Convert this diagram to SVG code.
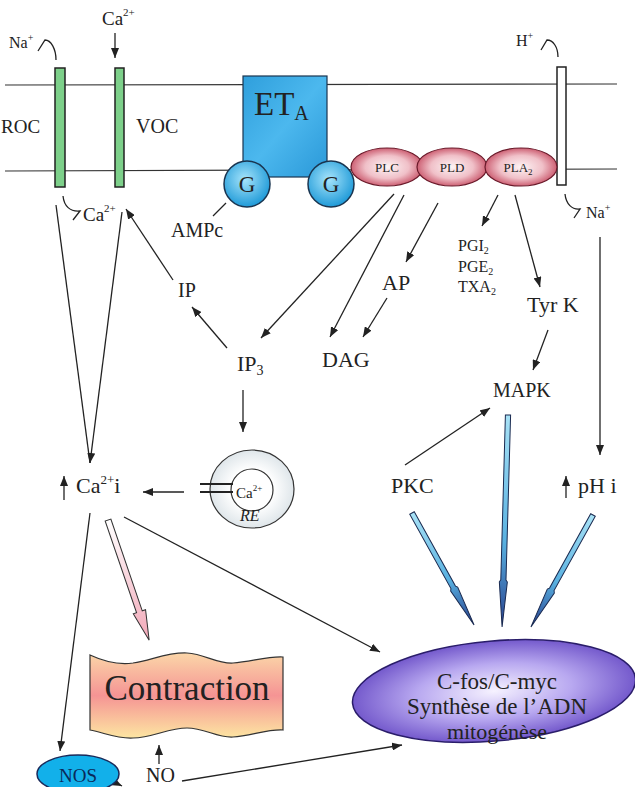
<svg xmlns="http://www.w3.org/2000/svg" width="635" height="787" viewBox="0 0 635 787" font-family="'Liberation Serif', 'Times New Roman', serif">
<style>
text{font-family:'Liberation Serif','Times New Roman',serif;fill:#222}
.ln{stroke:#222;stroke-width:1.3;fill:none}
.ar{stroke:#222;stroke-width:1.3;fill:none;marker-end:url(#ah)}
.mem{stroke:#333;stroke-width:1.2}
.chan{fill:#7dd08a;stroke:#222;stroke-width:1.5}
.g{fill:url(#gG);stroke:#1a3550;stroke-width:1.5}
.pl{fill:url(#gPL);stroke:#6a1a2a;stroke-width:1.2}
.blue{fill:url(#gBlue);stroke:#1a2a50;stroke-width:1}
</style>
<defs>
<marker id="ah" markerWidth="10" markerHeight="8" refX="10" refY="4" orient="auto" markerUnits="userSpaceOnUse"><path d="M0,0 L10,4 L0,8 Z" fill="#222"/></marker>
<linearGradient id="gET" x1="0" y1="0" x2="1" y2="1"><stop offset="0" stop-color="#2f9fdc"/><stop offset="0.5" stop-color="#4cb8ee"/><stop offset="1" stop-color="#2a98d8"/></linearGradient>
<radialGradient id="gG" cx="0.45" cy="0.4" r="0.6"><stop offset="0" stop-color="#a6e4fb"/><stop offset="1" stop-color="#1f9ad8"/></radialGradient>
<radialGradient id="gPL" cx="0.5" cy="0.5" r="0.55"><stop offset="0" stop-color="#fdf4f5"/><stop offset="0.55" stop-color="#f0c0c8"/><stop offset="1" stop-color="#c4485e"/></radialGradient>
<linearGradient id="gBlue" x1="0" y1="0" x2="1" y2="0"><stop offset="0" stop-color="#a8e2f6"/><stop offset="0.6" stop-color="#58b0e0"/><stop offset="1" stop-color="#27408e"/></linearGradient>
<linearGradient id="gPink" x1="0" y1="0" x2="1" y2="0"><stop offset="0" stop-color="#ffffff"/><stop offset="1" stop-color="#f2a8b8"/></linearGradient>
<linearGradient id="gCon" x1="0" y1="0" x2="0" y2="1"><stop offset="0" stop-color="#fbd6a8"/><stop offset="0.5" stop-color="#f59494"/><stop offset="1" stop-color="#fde6a2"/></linearGradient>
<radialGradient id="gFos" cx="0.5" cy="0.5" r="0.55"><stop offset="0" stop-color="#f6f2ff"/><stop offset="0.5" stop-color="#b8a8f0"/><stop offset="1" stop-color="#6548c4"/></radialGradient>
<radialGradient id="gRE" cx="0.5" cy="0.5" r="0.5"><stop offset="0.5" stop-color="#ffffff"/><stop offset="1" stop-color="#dfe6ea"/></radialGradient>
</defs>
<rect width="635" height="787" fill="#fff"/>

<g id="membrane">
<line class="mem" x1="5" y1="85" x2="617" y2="84"/>
<line class="mem" x1="5" y1="171" x2="617" y2="169"/>
</g>

<g id="connectors">
<path class="ar" d="M115,33 L115,58"/>
<path class="ln" d="M56,205 L90,463"/>
<path class="ar" d="M122,212 L90,463"/>
<path class="ar" d="M173,280 L126,209"/>
<path class="ar" d="M227,348 L192,307"/>
<path class="ar" d="M394,194 L261,338"/>
<path class="ar" d="M404,195 L330,337"/>
<path class="ar" d="M438,203 L406,262"/>
<path class="ar" d="M387,298 L363,337"/>
<path class="ar" d="M498,195 L482,226"/>
<path class="ar" d="M515,195 L540,287"/>
<path class="ar" d="M548,330 L533,370"/>
<path class="ar" d="M405,465 L490,408"/>
<path class="ar" d="M600,237 L600,455"/>
<path class="ar" d="M243,390 L243,432"/>
<path class="ar" d="M184,492 L143,492"/>
<path class="ar" d="M90,513 L60,751"/>
<path class="ar" d="M124,517 L380,652"/>
<path class="ar" d="M159,764 L159,745"/>
<path class="ar" d="M108,779 L122,786"/>
<path class="ar" d="M182,781 L402,745"/>
<path class="ln" d="M213,216 L226,203"/>
<path class="ar" d="M64,500 L64,476"/>
<path class="ar" d="M566,498 L566,476"/>
<path class="ln" d="M56,60 C56,49 51,40 45,40 L38,51"/>
<path class="ln" d="M558,57 C558,47 553,40 547,40 L541,50"/>
<path class="ln" d="M63,196 C64,206 70,212 80,211 L73,220"/>
<path class="ln" d="M565,194 C566,204 572,210 580,209 L574,218"/>
<g transform="translate(508,415) rotate(91.6)"><path class="blue" d="M0,-2.6 L165,-2.6 L167,-4 L212,0 L167,4 L165,2.6 L0,2.6 Z"/></g>
<g transform="translate(412,513) rotate(61)"><path class="blue" d="M0,-2.6 L85,-2.6 L87,-4 L128,0 L87,4 L85,2.6 L0,2.6 Z"/></g>
<g transform="translate(593,515) rotate(119)"><path class="blue" d="M0,-2.6 L85,-2.6 L87,-4 L128,0 L87,4 L85,2.6 L0,2.6 Z"/></g>
<g transform="translate(108,520) rotate(71.1)"><path d="M0,-3 L97,-3 L97,-6.5 L127,0 L97,6.5 L97,3 L0,3 Z" fill="url(#gPink)" stroke="#333" stroke-width="1"/></g>
</g>

<g id="ROC">
<rect class="chan" x="55" y="68" width="10" height="119"/>
<text x="1" y="133" font-size="19">ROC</text>
<text x="9" y="48" font-size="16">Na<tspan font-size="10" dy="-7">+</tspan></text>
<text x="83" y="221" font-size="19">Ca<tspan font-size="11" dy="-9">2+</tspan></text>
</g>
<g id="VOC">
<rect class="chan" x="115" y="68" width="9" height="119"/>
<text x="136" y="133" font-size="20">VOC</text>
<text x="102" y="25" font-size="19">Ca<tspan font-size="11" dy="-9">2+</tspan></text>
</g>
<g id="NHE">
<rect x="557" y="67" width="9" height="118" fill="#fff" stroke="#222" stroke-width="1.5"/>
<text x="516" y="46" font-size="16">H<tspan font-size="10" dy="-7">+</tspan></text>
<text x="586" y="218" font-size="16">Na<tspan font-size="10" dy="-7">+</tspan></text>
</g>

<g id="ETA">
<rect x="243" y="76" width="84" height="101" fill="url(#gET)" stroke="#1a3550" stroke-width="1.2"/>
<text x="254" y="115" font-size="33">ET<tspan font-size="20" dy="5">A</tspan></text>
</g>
<g id="G1"><circle class="g" cx="247" cy="184" r="23"/><text x="247" y="192" font-size="23" text-anchor="middle">G</text></g>
<g id="G2"><circle class="g" cx="331" cy="184" r="23"/><text x="331" y="192" font-size="23" text-anchor="middle">G</text></g>
<g id="PLC"><ellipse class="pl" cx="387" cy="167" rx="36" ry="19"/><text x="387" y="172" font-size="13" text-anchor="middle">PLC</text></g>
<g id="PLD"><ellipse class="pl" cx="452" cy="167" rx="35" ry="19"/><text x="452" y="172" font-size="13" text-anchor="middle">PLD</text></g>
<g id="PLA2"><ellipse class="pl" cx="521" cy="167" rx="36" ry="19"/><text x="518" y="172" font-size="13" text-anchor="middle">PLA<tspan font-size="9" dy="3">2</tspan></text></g>

<g id="AMPc"><text x="171" y="237" font-size="20">AMPc</text></g>
<g id="IP"><text x="178" y="297" font-size="20">IP</text></g>
<g id="IP3"><text x="237" y="371" font-size="22">IP<tspan font-size="14" dy="4">3</tspan></text></g>
<g id="AP"><text x="382" y="290" font-size="22">AP</text></g>
<g id="DAG"><text x="322" y="367" font-size="22">DAG</text></g>
<g id="PG">
<text x="458" y="251" font-size="16">PGI<tspan font-size="10" dy="3">2</tspan></text>
<text x="458" y="272" font-size="16">PGE<tspan font-size="10" dy="3">2</tspan></text>
<text x="458" y="292" font-size="16">TXA<tspan font-size="10" dy="3">2</tspan></text>
</g>
<g id="TyrK"><text x="527" y="312" font-size="22">Tyr K</text></g>
<g id="MAPK"><text x="493" y="397" font-size="20">MAPK</text></g>
<g id="PKC"><text x="391" y="493" font-size="22">PKC</text></g>
<g id="pHi"><text x="578" y="493" font-size="22">pH i</text></g>
<g id="Cai"><text x="76" y="493" font-size="22">Ca<tspan font-size="13" dy="-9">2+</tspan><tspan dy="9">i</tspan></text></g>

<g id="RE">
<ellipse cx="252" cy="489" rx="42" ry="39" fill="url(#gRE)" stroke="#333" stroke-width="1.2"/>
<circle cx="252" cy="490" r="21" fill="#fff" stroke="#333" stroke-width="1.2"/>
<line x1="200" y1="484" x2="233" y2="484" stroke="#222" stroke-width="2"/>
<line x1="200" y1="492" x2="233" y2="492" stroke="#222" stroke-width="2"/>
<text x="236" y="498" font-size="15">Ca<tspan font-size="9" dy="-7">2+</tspan></text>
<text x="240" y="521" font-size="16" font-style="italic">RE</text>
</g>

<g id="Contraction">
<path d="M90,655 C105,662 118,665 133,663 C152,660 168,652 187,653 C205,654 217,664 233,663 C250,662 268,656 283,657 L283,730 C268,729 250,736 233,737 C217,738 205,728 187,728 C168,728 152,738 133,738 C118,739 105,733 90,730 Z" fill="url(#gCon)" stroke="#333" stroke-width="1.2"/>
<text x="187" y="700" font-size="35" text-anchor="middle">Contraction</text>
</g>

<g id="Mitogenese">
<ellipse cx="494" cy="691" rx="142" ry="50" transform="rotate(-5 494 691)" fill="url(#gFos)" stroke="#2a1d6a" stroke-width="1.5"/>
<text x="497" y="689" font-size="23" text-anchor="middle">C-fos/C-myc</text>
<text x="497" y="714" font-size="23" text-anchor="middle">Synthèse de l’ADN</text>
<text x="497" y="739" font-size="22" text-anchor="middle">mitogénèse</text>
</g>

<g id="NOS">
<ellipse cx="78" cy="774" rx="41" ry="19" fill="#12b0ea" stroke="#1a2a5a" stroke-width="1.5"/>
<text x="78" y="782" font-size="19" text-anchor="middle" style="fill:#0a2a5a">NOS</text>
</g>
<g id="NO"><text x="146" y="782" font-size="20">NO</text></g>
</svg>
